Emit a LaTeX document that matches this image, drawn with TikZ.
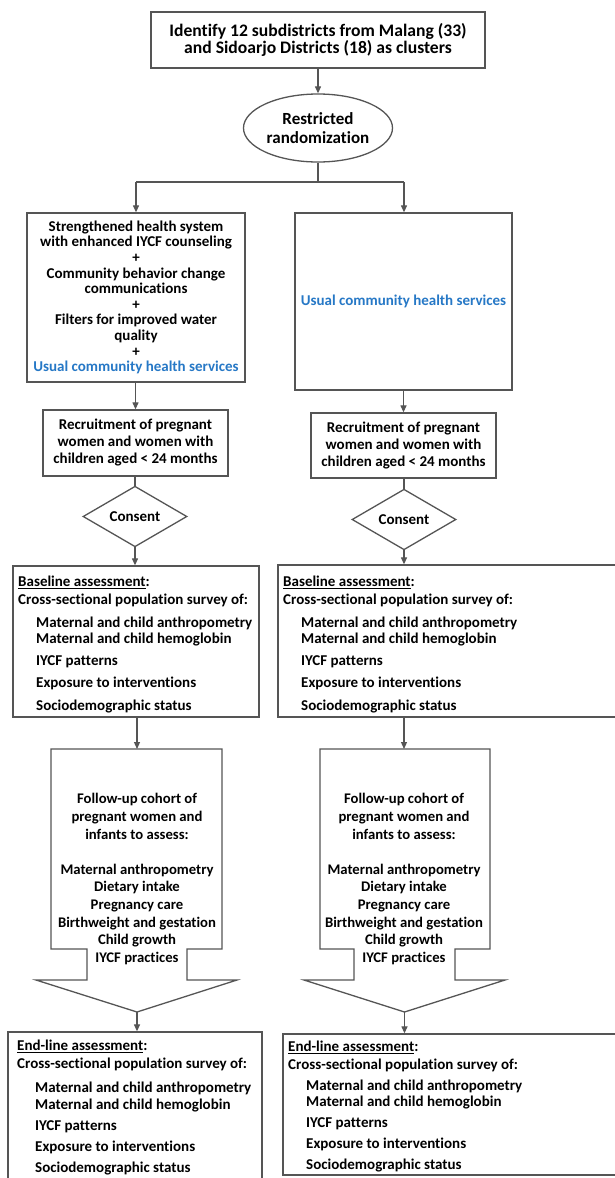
\documentclass[tikz,border=0pt]{standalone}
\usepackage{fontspec}
\setmainfont{Carlito}[Ligatures=NoCommon]
\usetikzlibrary{shapes.geometric,arrows.meta}
\definecolor{ln}{RGB}{85,85,85}
\definecolor{ublue}{RGB}{38,120,198}
\tikzset{
  box/.style={draw=ln, line width=1.3pt, rectangle, inner sep=0pt, align=center},
  conn/.style={draw=ln, line width=1.2pt},
  arr/.style={conn, -{Triangle[length=7pt,width=6pt]}},
  txt/.style={inner sep=0pt, align=center},
  ltxt/.style={inner sep=0pt, align=left, anchor=north west, font=\bfseries\fontsize{15}{16}\selectfont},
}
\newcommand{\ind}{\hspace*{18pt}}
\begin{document}
\begin{tikzpicture}[x=1pt,y=-1pt,font=\bfseries\fontsize{15}{15.6}\selectfont]
\useasboundingbox (0,0) rectangle (614,1178);
\fill[white] (0,0) rectangle (614,1178);
% top
\node[box, minimum width=334pt, minimum height=56pt, font=\bfseries\fontsize{17.6}{17.5}\selectfont] (top) at (318,40)
  {Identify 12 subdistricts from Malang (33)\\and Sidoarjo Districts (18) as clusters};
\node[draw=ln, line width=1.3pt, ellipse, minimum width=149pt, minimum height=68pt, inner sep=0pt, align=center, font=\bfseries\fontsize{17}{19}\selectfont] (rand) at (318,128)
  {Restricted\\randomization};
\draw[arr] (top) -- (rand);
\coordinate (jn) at (318,182);
\coordinate (jl) at (136,182);
\coordinate (jr) at (404,182);
% intervention boxes
\node[box, minimum width=218pt, minimum height=169pt] (intL) at (136,297.5)
  {Strengthened health system\\with enhanced IYCF counseling\\+\\Community behavior change\\communications\\+\\Filters for improved water\\quality\\+\\\textcolor{ublue}{Usual community health services}};
\node[box, minimum width=217pt, minimum height=177pt, text=ublue] (intR) at (403.5,301.5)
  {Usual community health services};
\draw[conn] (rand.south) -- (jn);
\draw[conn] (jl) -- (jr);
\draw[arr] (jl) -- (jl |- intL.north);
\draw[arr] (jr) -- (jr |- intR.north);
% recruitment
\node[box, minimum width=185pt, minimum height=66pt, font=\bfseries\fontsize{15}{17}\selectfont] (recL) at (135.5,443)
  {Recruitment of pregnant\\women and women with\\children aged < 24 months};
\node[box, minimum width=185pt, minimum height=65pt, font=\bfseries\fontsize{15}{17}\selectfont] (recR) at (403.5,445.5)
  {Recruitment of pregnant\\women and women with\\children aged < 24 months};
\draw[arr] (intL.south -| recL) -- (recL.north);
\draw[arr] (intR.south -| recR) -- (recR.north);
% consent
\node[draw=ln, line width=1.3pt, diamond, minimum width=104pt, minimum height=51pt, inner sep=0pt] (conL) at (135,516.5) {Consent};
\node[draw=ln, line width=1.3pt, diamond, minimum width=104pt, minimum height=51pt, inner sep=0pt] (conR) at (404,519.5) {Consent};
\draw[conn] (recL.south -| conL) -- (conL.north);
\draw[conn] (recR.south -| conR) -- (conR.north);
% baseline
\node[box, minimum width=246pt, minimum height=151pt] (blL) at (136,641.5) {};
\node[box, minimum width=347pt, minimum height=152pt] (blR) at (451.5,641) {};
\draw[arr] (conL.south) -- (conL.south |- blL.north);
\draw[arr] (conR.south) -- (conR.south |- blR.north);
\node[ltxt] (blLt) at (18,576) {\underline{Baseline assessment}:\\[2pt]
  Cross-sectional population survey of:\\[7pt]
  \ind Maternal and child anthropometry\\
  \ind Maternal and child hemoglobin\\[6pt]
  \ind IYCF patterns\\[6pt]
  \ind Exposure to interventions\\[7pt]
  \ind Sociodemographic status};
\node[ltxt] (blRt) at (283,576) {\underline{Baseline assessment}:\\[2pt]
  Cross-sectional population survey of:\\[7pt]
  \ind Maternal and child anthropometry\\
  \ind Maternal and child hemoglobin\\[6pt]
  \ind IYCF patterns\\[6pt]
  \ind Exposure to interventions\\[7pt]
  \ind Sociodemographic status};
% follow-up
\draw[draw=ln, line width=1.3pt] (51,749) -- (222,749) -- (222,949) -- (187,949) -- (187,980) -- (237,980)
  -- (137,1012) -- (36,980) -- (87,980) -- (87,949) -- (51,949) -- cycle;
\draw[draw=ln, line width=1.3pt] (320,749) -- (490,749) -- (490,949) -- (455,949) -- (455,980) -- (505,980)
  -- (404.5,1012) -- (304,980) -- (354,980) -- (354,949) -- (320,949) -- cycle;
\coordinate (fuLtop) at (137,749);
\coordinate (fuRtop) at (404,749);
\coordinate (fuLtip) at (137,1012);
\coordinate (fuRtip) at (404.5,1012);
\node[txt, font=\bfseries\fontsize{14.7}{17.6}\selectfont] (fuL) at (137,879)
  {Follow-up cohort of\\pregnant women and\\infants to assess:\\[17.6pt]Maternal anthropometry\\Dietary intake\\Pregnancy care\\Birthweight and gestation\\Child growth\\IYCF practices};
\node[txt, font=\bfseries\fontsize{14.7}{17.6}\selectfont] (fuR) at (404,879)
  {Follow-up cohort of\\pregnant women and\\infants to assess:\\[17.6pt]Maternal anthropometry\\Dietary intake\\Pregnancy care\\Birthweight and gestation\\Child growth\\IYCF practices};
\draw[arr] (blL.south -| fuLtop) -- (fuLtop);
\draw[arr] (blR.south -| fuRtop) -- (fuRtop);
% end-line
\node[box, minimum width=254pt, minimum height=158pt] (endL) at (135,1111) {};
\node[box, minimum width=342pt, minimum height=141pt] (endR) at (454,1104.5) {};
\draw[arr] (fuLtip) -- (fuLtip |- endL.north);
\draw[arr] (fuRtip) -- (fuRtip |- endR.north);
\node[ltxt] (endLt) at (17,1040) {\underline{End-line assessment}:\\[2pt]
  Cross-sectional population survey of:\\[8pt]
  \ind Maternal and child anthropometry\\[1pt]
  \ind Maternal and child hemoglobin\\[5pt]
  \ind IYCF patterns\\[5pt]
  \ind Exposure to interventions\\[5pt]
  \ind Sociodemographic status};
\node[ltxt] (endRt) at (288,1041) {\underline{End-line assessment}:\\[2pt]
  Cross-sectional population survey of:\\[5pt]
  \ind Maternal and child anthropometry\\
  \ind Maternal and child hemoglobin\\[5pt]
  \ind IYCF patterns\\[5pt]
  \ind Exposure to interventions\\[5pt]
  \ind Sociodemographic status};
\end{tikzpicture}
\end{document}
